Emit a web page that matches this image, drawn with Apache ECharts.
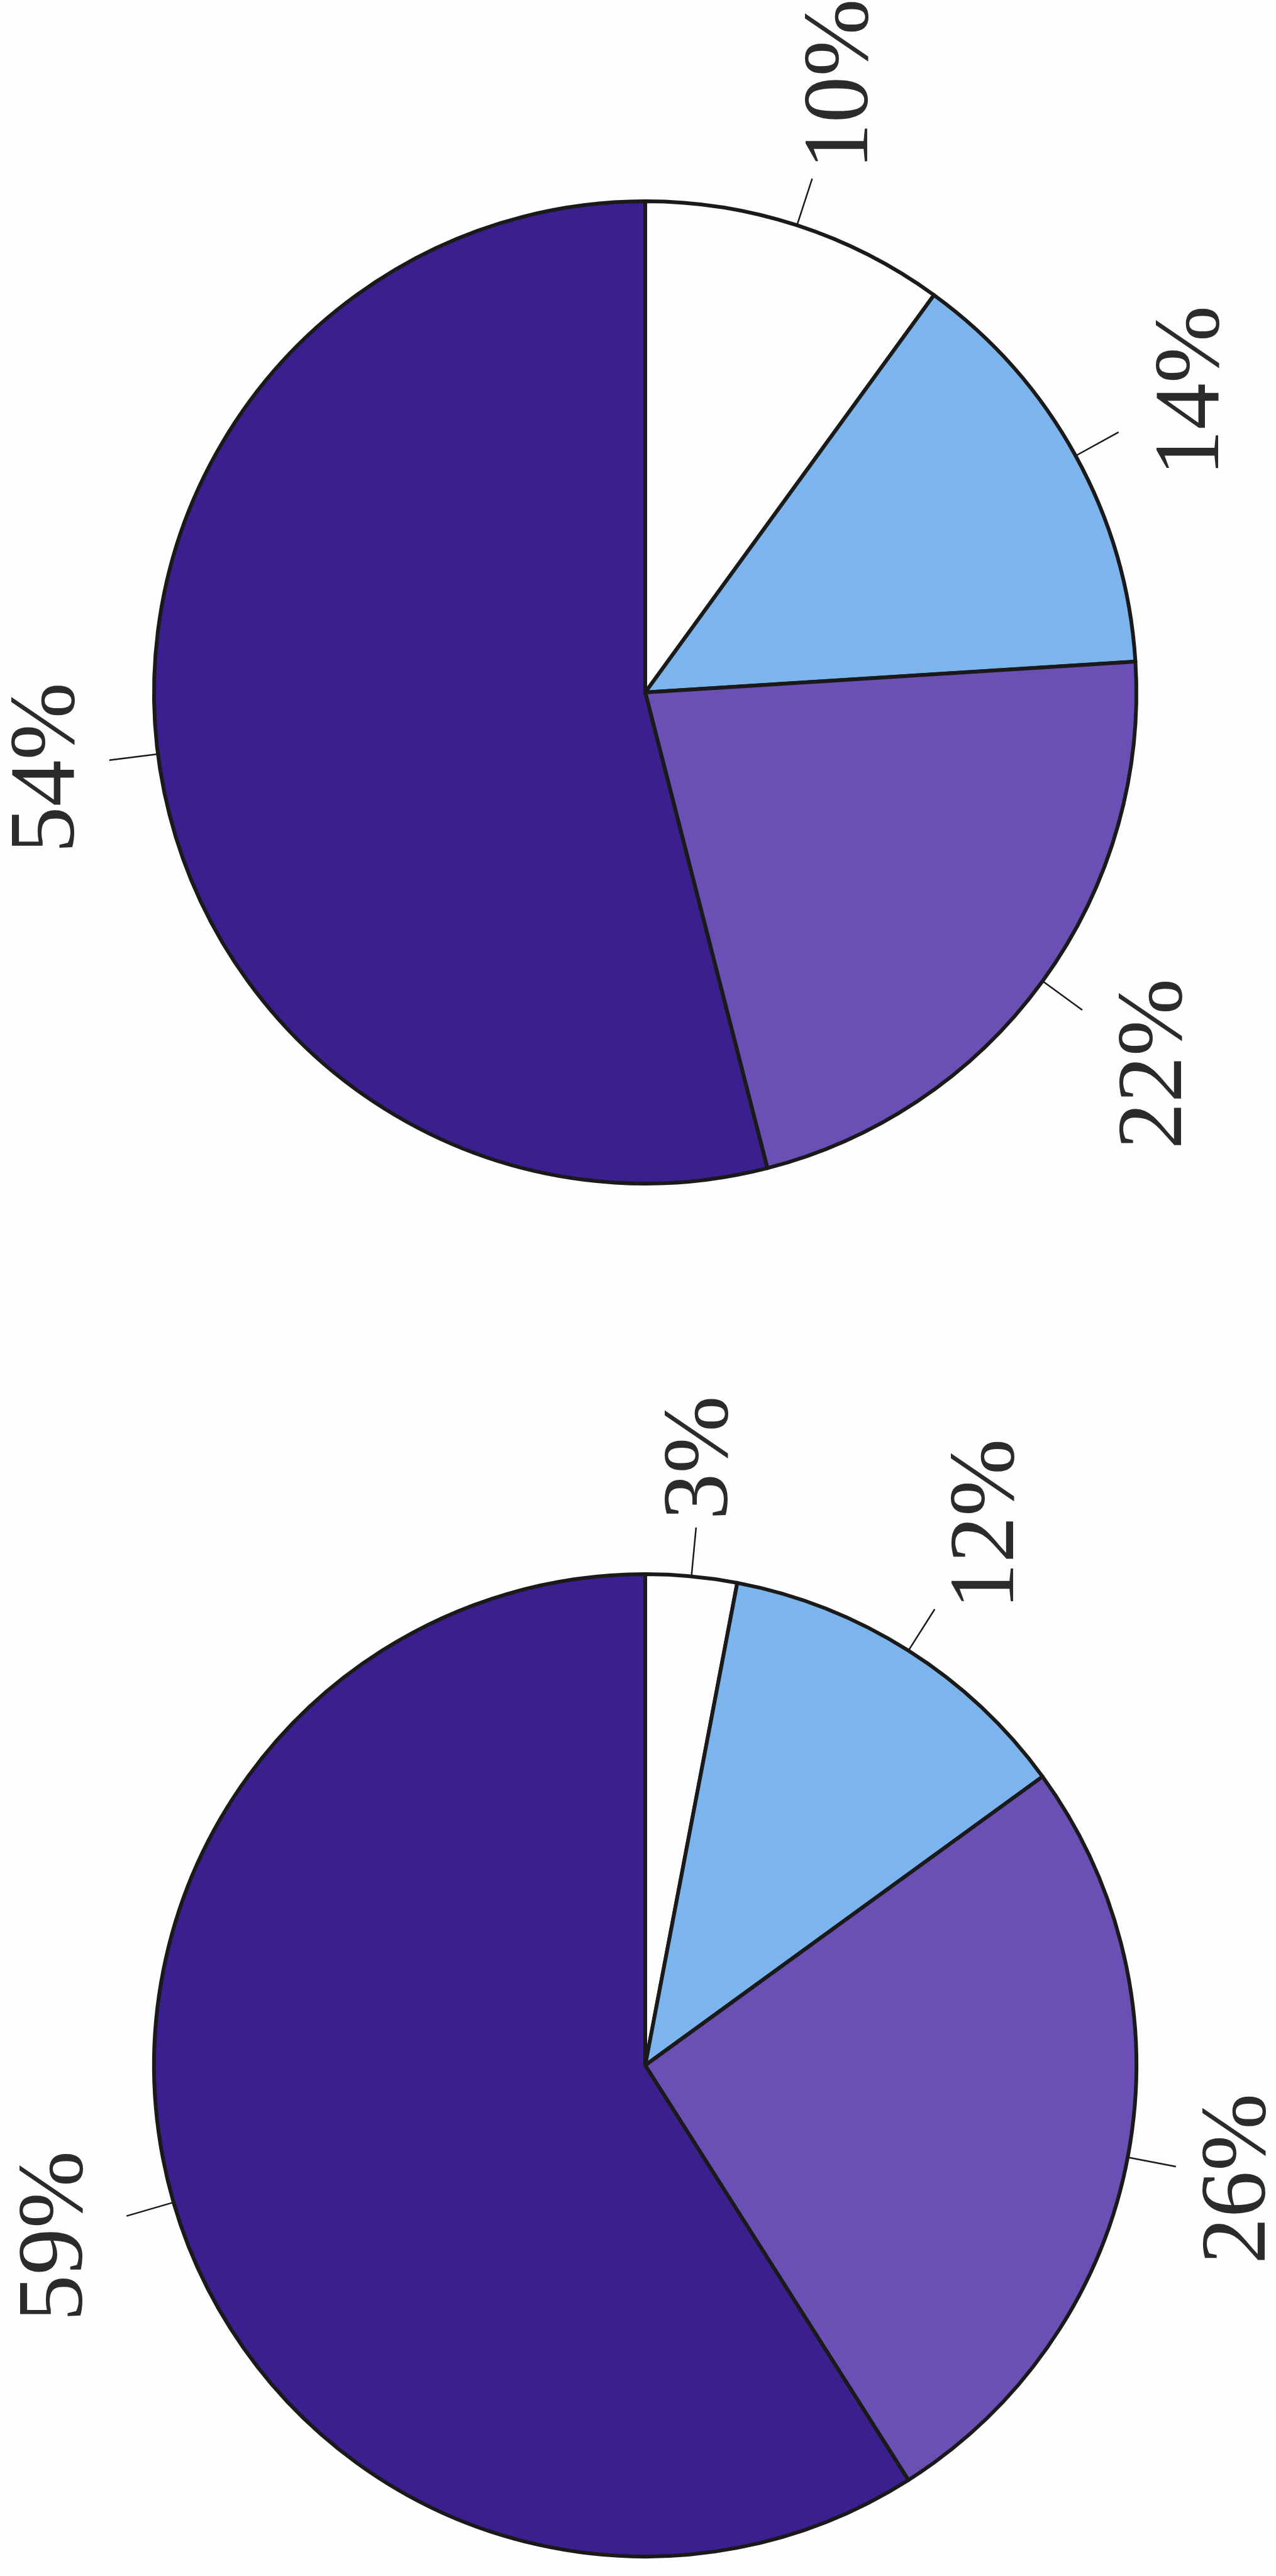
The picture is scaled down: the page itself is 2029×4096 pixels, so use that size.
<!DOCTYPE html>
<html><head><meta charset="utf-8">
<script src="https://cdn.jsdelivr.net/npm/echarts@6/dist/echarts.min.js"></script>
<style>html,body{margin:0;padding:0;background:#fdfefe;} #c{width:2029px;height:4096px;}</style>
</head><body><div id="c"></div>
<script>
// ---- data ----
const categories = ['Segment A', 'Segment B', 'Segment C', 'Segment D'];
const topValues = [10, 14, 22, 54];
const bottomValues = [3, 12, 26, 59];
const sliceColors = ['#fdfdfd', '#7cb5ed', '#6a50b5', '#3b1f8e'];

// ---- chart ----
const chart = echarts.init(document.getElementById('c'), null, {renderer: 'canvas'});
const R = 781, TICK = 78, GAP = 6;

function labelLayout(params) {
  const pts = params.labelLinePoints;
  if (!pts) return {};
  const p0 = pts[0], p1 = pts[1];
  let ux = p1[0] - p0[0], uy = p1[1] - p0[1];
  const len = Math.hypot(ux, uy) || 1; ux /= len; uy /= len;
  const r = params.labelRect;
  const support = Math.abs(ux) * r.width / 2 + Math.abs(uy) * r.height / 2;
  const d = GAP + support;
  return {
    x: p1[0] + ux * d, y: p1[1] + uy * d,
    align: 'center', verticalAlign: 'middle',
    labelLinePoints: pts.map(p => [p[0], p[1]])
  };
}

function makeSeries(values, center) {
  return {
    type: 'pie', center: center, radius: R, startAngle: 90, clockwise: true,
    avoidLabelOverlap: false, silent: true, animation: false,
    data: values.map((v, i) => ({name: categories[i], value: v, itemStyle: {color: sliceColors[i]}})),
    itemStyle: {borderColor: '#1a1a1a', borderWidth: 6},
    label: {show: true, position: 'outside', formatter: '{c}%', rotate: 90,
      fontFamily: 'Liberation Serif', fontSize: 148, color: '#2b2b2b'},
    labelLine: {show: true, length: TICK, length2: 0, smooth: false,
      lineStyle: {color: '#1a1a1a', width: 2.5}},
    labelLayout: labelLayout
  };
}

chart.setOption({
  backgroundColor: '#fdfefe',
  animation: false,
  series: [
    makeSeries(topValues, [1026, 1101]),
    makeSeries(bottomValues, [1026, 3284])
  ]
});
</script></body></html>
